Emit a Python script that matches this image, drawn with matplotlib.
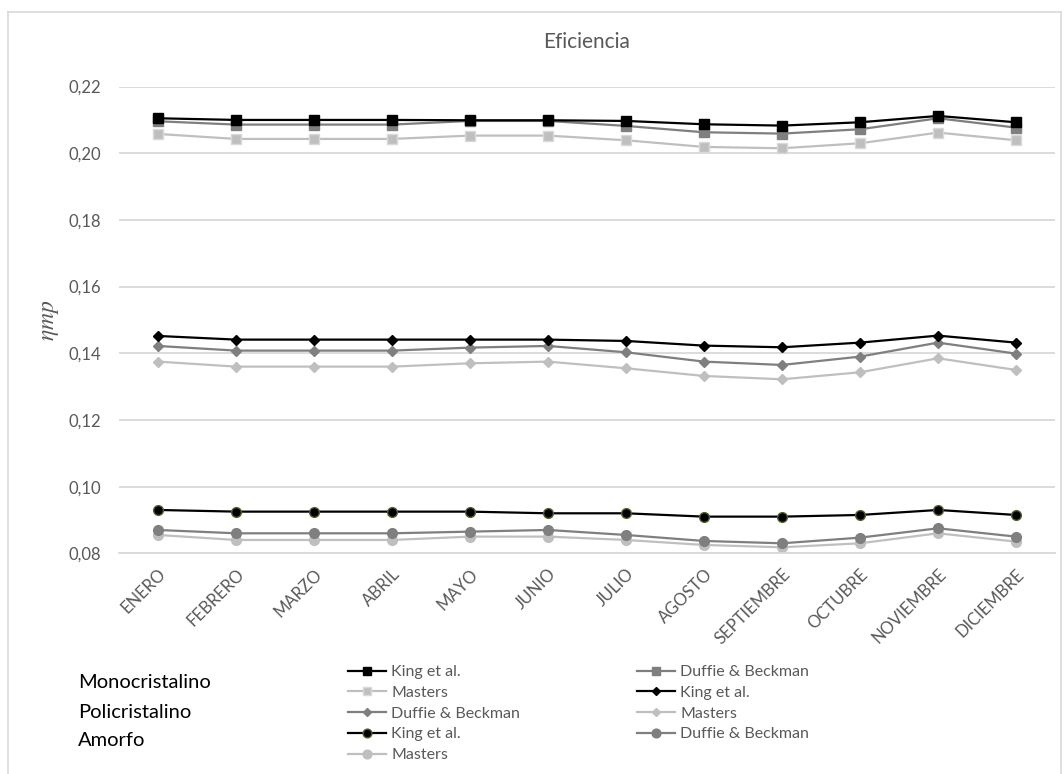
import matplotlib
matplotlib.use('Agg')
import matplotlib.pyplot as plt
from matplotlib.lines import Line2D

plt.rcParams['font.family'] = ['Lato', 'DejaVu Sans']

meses = ['ENERO', 'FEBRERO', 'MARZO', 'ABRIL', 'MAYO', 'JUNIO', 'JULIO',
         'AGOSTO', 'SEPTIEMBRE', 'OCTUBRE', 'NOVIEMBRE', 'DICIEMBRE']

# Monocristalino
mono_king = [0.2105, 0.2100, 0.2100, 0.2100, 0.2099, 0.2099, 0.2097,
             0.2087, 0.2083, 0.2093, 0.2112, 0.2093]
mono_duffie = [0.2096, 0.2086, 0.2086, 0.2086, 0.2097, 0.2097, 0.2082,
               0.2063, 0.2059, 0.2072, 0.2105, 0.2077]
mono_masters = [0.2058, 0.2043, 0.2043, 0.2043, 0.2053, 0.2053, 0.2039,
                0.2019, 0.2015, 0.2030, 0.2062, 0.2039]

# Policristalino
poli_king = [0.1452, 0.1441, 0.1441, 0.1441, 0.1441, 0.1441, 0.1437,
             0.1423, 0.1418, 0.1432, 0.1453, 0.1432]
poli_duffie = [0.1422, 0.1408, 0.1408, 0.1408, 0.1417, 0.1422, 0.1403,
               0.1375, 0.1365, 0.1390, 0.1432, 0.1399]
poli_masters = [0.1375, 0.1360, 0.1360, 0.1360, 0.1370, 0.1375, 0.1355,
                0.1332, 0.1322, 0.1343, 0.1385, 0.1350]

# Amorfo
amor_king = [0.0930, 0.0925, 0.0925, 0.0925, 0.0925, 0.0920, 0.0920,
             0.0910, 0.0910, 0.0915, 0.0930, 0.0915]
amor_duffie = [0.0870, 0.0860, 0.0860, 0.0860, 0.0865, 0.0870, 0.0855,
               0.0837, 0.0830, 0.0847, 0.0875, 0.0850]
amor_masters = [0.0855, 0.0840, 0.0840, 0.0840, 0.0850, 0.0850, 0.0840,
                0.0825, 0.0818, 0.0830, 0.0860, 0.0835]

yticks = [0.08, 0.10, 0.12, 0.14, 0.16, 0.18, 0.20, 0.22]

NEGRO = '#000000'
GRIS = '#7f7f7f'
CLARO = '#bfbfbf'
TXT = '#595959'

W, H = 1064, 774
fig = plt.figure(figsize=(W / 100, H / 100), dpi=100)
ax = fig.add_axes([119 / W, 1 - 553.3 / H, (1055 - 119) / W, (553.3 - 86.6) / H])

x = list(range(len(meses)))
series = [
    (mono_king, NEGRO, 's', 6.8, NEGRO, 'King et al.'),
    (mono_duffie, GRIS, 's', 6.8, GRIS, 'Duffie & Beckman'),
    (mono_masters, CLARO, 's', 6.8, '#d9d9d9', 'Masters'),
    (poli_king, NEGRO, 'D', 5.0, NEGRO, 'King et al.'),
    (poli_duffie, GRIS, 'D', 5.0, GRIS, 'Duffie & Beckman'),
    (poli_masters, CLARO, 'D', 5.0, CLARO, 'Masters'),
    (amor_king, NEGRO, 'o', 7.0, '#4f6228', 'King et al.'),
    (amor_duffie, GRIS, 'o', 7.0, GRIS, 'Duffie & Beckman'),
    (amor_masters, CLARO, 'o', 7.0, CLARO, 'Masters'),
]
handles = []
# draw lighter series first so the darker ones sit on top
for vals, col, mk, ms, ec, lab in reversed(series):
    ax.plot(x, vals, color=col, lw=1.6, marker=mk, ms=ms,
            markerfacecolor=col, markeredgecolor=ec, markeredgewidth=1.0)
for vals, col, mk, ms, ec, lab in series:
    handles.append(Line2D([], [], color=col, lw=1.6, marker=mk, ms=ms * 0.9,
                          markerfacecolor=col, markeredgecolor=ec,
                          markeredgewidth=1.0, label=lab))

ax.set_xlim(-0.5, len(meses) - 0.5)
ax.set_ylim(0.08, 0.22)
ax.set_yticks(yticks)
ax.set_yticklabels([f'{v:.2f}'.replace('.', ',') for v in yticks])
ax.set_xticks(x)
ax.set_xticklabels(meses, rotation=45, ha='right', va='top',
                   rotation_mode='anchor')
ax.tick_params(axis='both', length=0, colors=TXT, labelsize=12)
ax.tick_params(axis='y', pad=13)
ax.tick_params(axis='x', pad=9)
ax.grid(axis='y', color='#d9d9d9', lw=1.3)
ax.set_axisbelow(True)
for s in ['top', 'right', 'left']:
    ax.spines[s].set_visible(False)
ax.spines['bottom'].set_color('#d9d9d9')
ax.spines['bottom'].set_linewidth(1.3)

ax.set_ylabel(r'$\eta mp$', fontsize=17, color=TXT, math_fontfamily='stix')
ax.yaxis.set_label_coords(-58 / (1055 - 119), 0.5)

fig.text(587 / W, 1 - 42 / H, 'Eficiencia', ha='center', va='center',
         fontsize=15, color=TXT)

# two legend columns, filled row by row like the original
col1 = [handles[i] for i in (0, 2, 4, 6, 8)]
col2 = [handles[i] for i in (1, 3, 5, 7)]
leg_kw = dict(loc='upper left', frameon=False, fontsize=11.5,
              handlelength=2.4, handletextpad=0.3, labelspacing=0.41,
              borderpad=0, borderaxespad=0, labelcolor=TXT)
leg1 = fig.legend(handles=col1, bbox_to_anchor=(348 / W, 1 - 665 / H), **leg_kw)
fig.legend(handles=col2, bbox_to_anchor=(637 / W, 1 - 665 / H), **leg_kw)

for lab, yy in [('Monocristalino', 683), ('Policristalino', 712), ('Amorfo', 741)]:
    fig.text(78 / W, 1 - yy / H, lab, ha='left', va='center', fontsize=14.5,
             color='black')

# chart frame
frame = dict(color='#d9d9d9', lw=1.2, transform=fig.transFigure, clip_on=False)
fig.add_artist(Line2D([8 / W, 8 / W], [0, 1 - 12 / H], **frame))
fig.add_artist(Line2D([8 / W, 1061 / W], [1 - 12 / H, 1 - 12 / H], **frame))
fig.add_artist(Line2D([1061 / W, 1061 / W], [0, 1 - 12 / H], **frame))

fig.savefig('out.png', dpi=100)
